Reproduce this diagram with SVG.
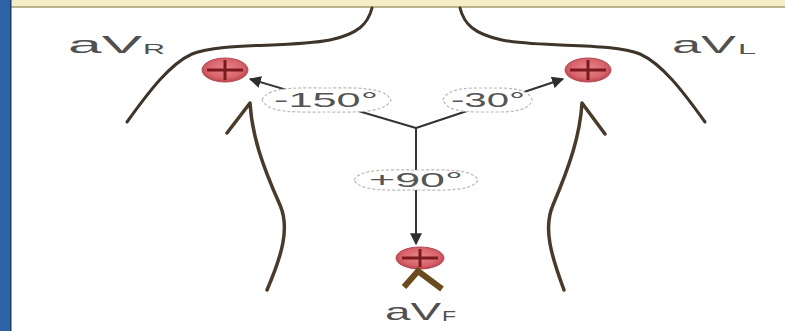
<svg xmlns="http://www.w3.org/2000/svg" width="785" height="331" viewBox="0 0 785 331">
  <defs>
    <radialGradient id="padFill" cx="50%" cy="45%" r="55%">
      <stop offset="0" stop-color="#e8868c"/>
      <stop offset="0.7" stop-color="#d9646c"/>
      <stop offset="1" stop-color="#b8454e"/>
    </radialGradient>
    <marker id="arrowHead" viewBox="0 0 10 10" refX="9" refY="5" markerWidth="6" markerHeight="6" orient="auto">
      <path d="M0,0 L10,5 L0,10 z" fill="#2e2e2e"/>
    </marker>
  </defs>
  <style>
    .body { fill: none; stroke: #3f342a; stroke-width: 3; stroke-linecap: round; stroke-linejoin: round; }
    .limb { fill: none; stroke: #4a3a2a; stroke-width: 3.5; stroke-linecap: round; stroke-linejoin: round; }
    .pad { fill: url(#padFill); stroke: #b84a54; stroke-width: 1; }
    .cross { stroke: #7a1a1e; stroke-width: 3; stroke-linecap: butt; }
    .wire { fill: none; stroke: #333; stroke-width: 2; }
    .tag { fill: #fff; stroke: #b9b9b9; stroke-width: 1.2; stroke-dasharray: 3 2; }
    .tagText { font-family: "Liberation Sans", Arial, sans-serif; font-size: 21px; fill: #555; }
    .lead { font-family: "Liberation Sans", Arial, sans-serif; font-size: 24px; fill: #505050; }
    .sub { font-size: 15px; }
  </style>

  <!-- page frame -->
  <rect x="0" y="0" width="785" height="331" fill="#ffffff"/>
  <rect x="0" y="0" width="785" height="6" fill="#f4eec6"/>
  <rect x="0" y="6" width="785" height="2" fill="#bdb48e"/>
  <rect x="0" y="0" width="10" height="331" fill="#2f63a8"/>
  <rect x="10" y="0" width="1.5" height="331" fill="#1d3f6e"/>

  <!-- torso outline -->
  <g id="torso">
    <path class="body" d="M372,8 C368,24 358,34 330,40 C290,48 220,42 192,54 C170,64 150,90 127,122"/>
    <path class="body" d="M460,8 C464,24 474,34 502,40 C542,48 612,42 640,54 C662,64 682,90 705,122"/>
    <path class="limb" d="M227,133 L250,103 C252,135 262,165 280,205 C290,228 282,255 267,290"/>
    <path class="limb" d="M605,134 L582,103 C580,135 570,165 553,205 C543,228 551,255 564,290"/>
  </g>

  <!-- connectors -->
  <g id="connectors">
    <line class="wire" x1="416" y1="128" x2="250" y2="79" marker-end="url(#arrowHead)"/>
    <line class="wire" x1="416" y1="128" x2="563" y2="79" marker-end="url(#arrowHead)"/>
    <line class="wire" x1="416" y1="128" x2="416" y2="244" marker-end="url(#arrowHead)"/>
  </g>

  <!-- angle tags -->
  <g id="tag-150">
    <path class="tag" d="M262,100 C268,86 300,88 326,88 C352,88 384,86 391,100 C384,114 352,112 326,112 C300,112 268,114 262,100 z"/>
    <text class="tagText" x="326" y="107" text-anchor="middle" textLength="104" lengthAdjust="spacingAndGlyphs">-150°</text>
  </g>
  <g id="tag-30">
    <path class="tag" d="M443,100 C448,87 470,88 488,88 C506,88 528,87 532,100 C528,113 506,112 488,112 C470,112 448,113 443,100 z"/>
    <text class="tagText" x="488" y="107" text-anchor="middle" textLength="74" lengthAdjust="spacingAndGlyphs">-30°</text>
  </g>
  <g id="tag90">
    <path class="tag" d="M354,180 C360,168 390,170 416,170 C442,170 472,168 478,180 C472,192 442,190 416,190 C390,190 360,192 354,180 z"/>
    <text class="tagText" x="416" y="187" text-anchor="middle" textLength="94" lengthAdjust="spacingAndGlyphs">+90°</text>
  </g>

  <!-- electrodes -->
  <g id="aVR">
    <ellipse class="pad" cx="225" cy="70" rx="23" ry="12"/>
    <line class="cross" x1="207" y1="70" x2="243" y2="70"/>
    <line class="cross" x1="225" y1="60" x2="225" y2="80"/>
    <text class="lead" x="68" y="53" textLength="74" lengthAdjust="spacingAndGlyphs">aV</text>
    <text class="lead sub" x="143" y="54" textLength="22" lengthAdjust="spacingAndGlyphs">R</text>
  </g>
  <g id="aVL">
    <ellipse class="pad" cx="588" cy="70" rx="23" ry="12"/>
    <line class="cross" x1="570" y1="70" x2="606" y2="70"/>
    <line class="cross" x1="588" y1="60" x2="588" y2="80"/>
    <text class="lead" x="672" y="53" textLength="64" lengthAdjust="spacingAndGlyphs">aV</text>
    <text class="lead sub" x="738" y="54" textLength="18" lengthAdjust="spacingAndGlyphs">L</text>
  </g>
  <g id="aVF">
    <ellipse class="pad" cx="420" cy="258" rx="24" ry="11"/>
    <line class="cross" x1="402" y1="258" x2="438" y2="258"/>
    <line class="cross" x1="420" y1="249" x2="420" y2="267"/>
    <path d="M404,287 L418,271 L442,289" fill="none" stroke="#6a4b1f" stroke-width="6" stroke-linejoin="miter"/>
    <text class="lead" x="385" y="320" textLength="56" lengthAdjust="spacingAndGlyphs">aV</text>
    <text class="lead sub" x="442" y="321" textLength="14" lengthAdjust="spacingAndGlyphs">F</text>
  </g>
</svg>
